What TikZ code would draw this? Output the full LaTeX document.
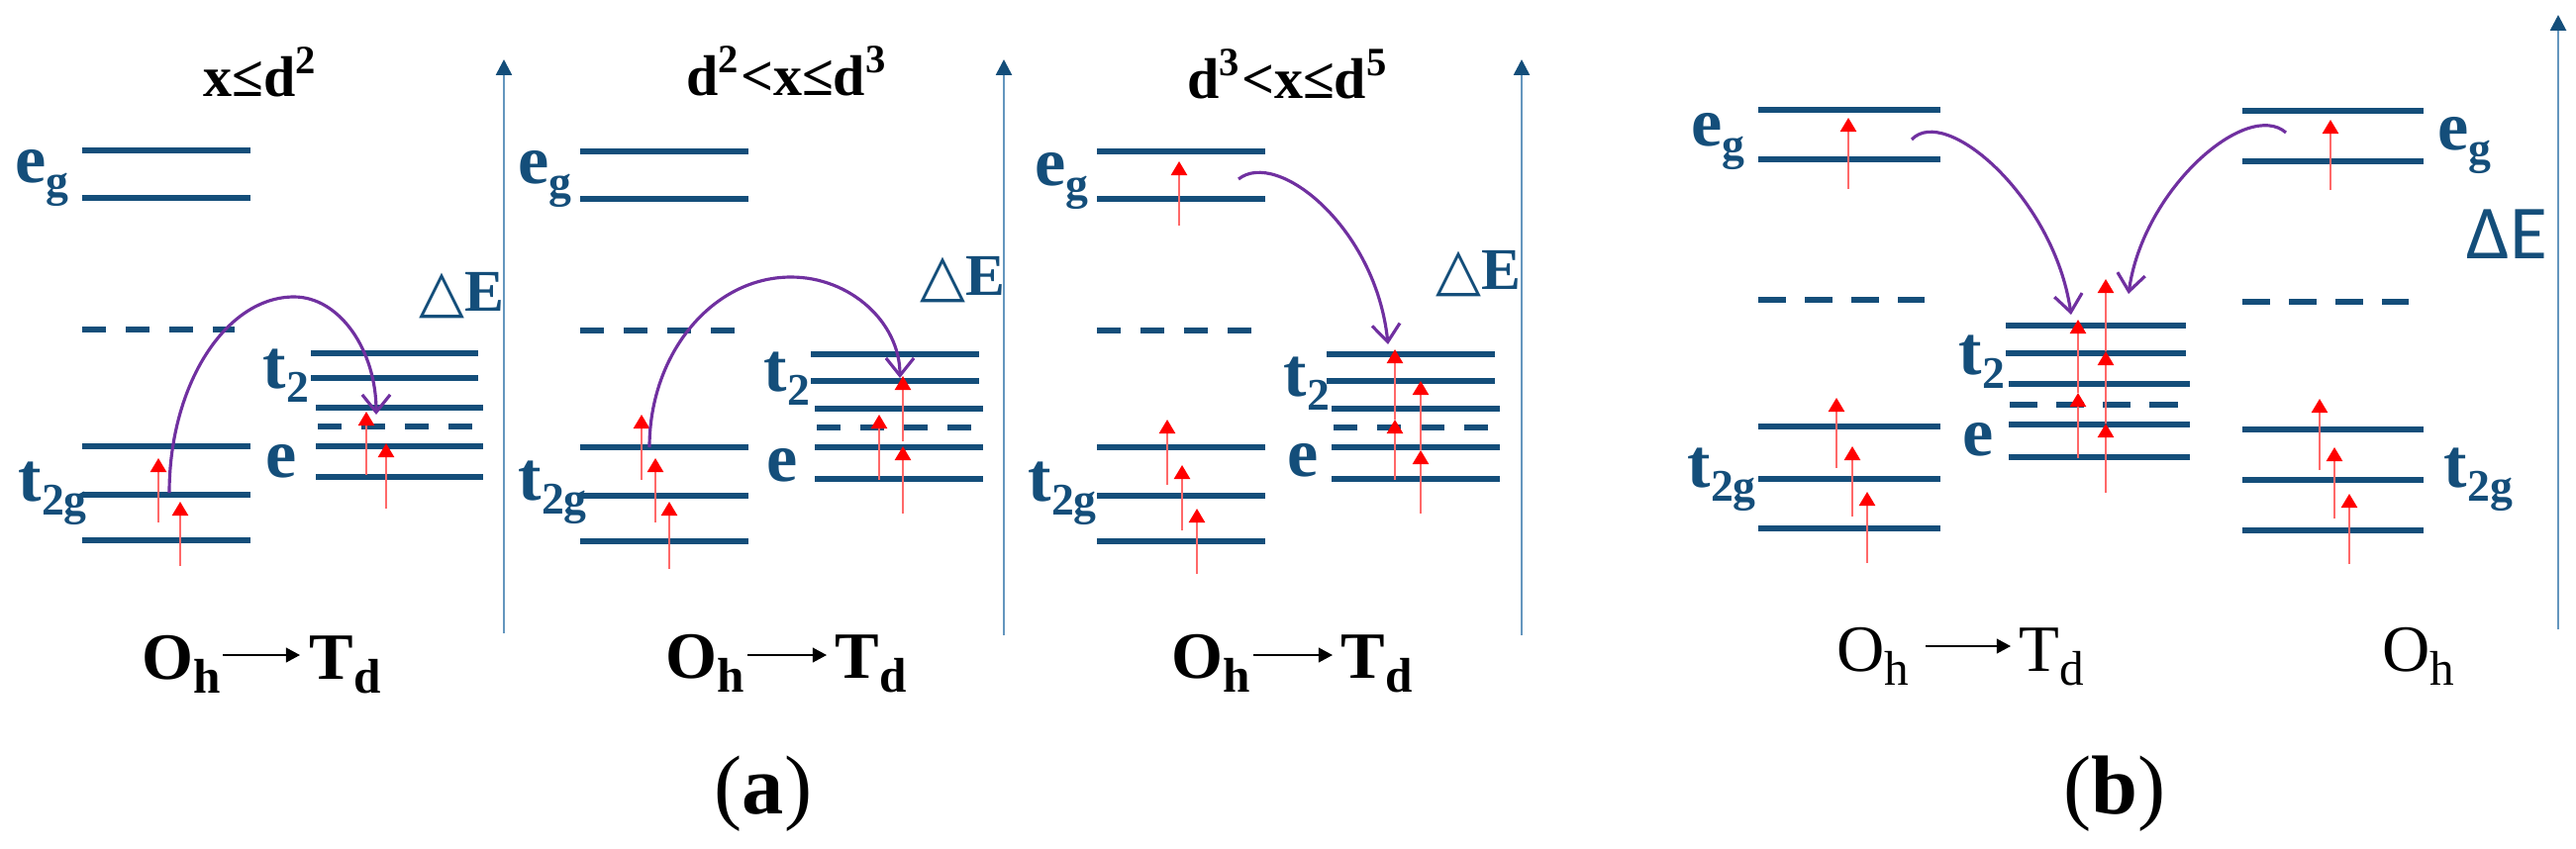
\documentclass[tikz,border=0pt]{standalone}
\usepackage{fontspec}
\setmainfont{Liberation Serif}
\newfontfamily\trifont{DejaVu Sans}
\newfontfamily\carfont{Carlito}
\usetikzlibrary{arrows.meta}
\definecolor{lvlblue}{RGB}{20,78,122}
\definecolor{axblue}{RGB}{100,150,190}
\definecolor{hopc}{RGB}{112,48,160}
\definecolor{elline}{RGB}{255,105,105}
\newcommand{\lsub}[2]{#1\raisebox{-4pt}{\fontsize{13pt}{13pt}\selectfont #2}}
\newcommand{\osub}[2]{#1\raisebox{-4pt}{\fontsize{14pt}{14pt}\selectfont #2}}
\begin{document}
\begin{tikzpicture}[x=0.01cm,y=-0.01cm,
  lvl/.style={draw=lvlblue,line width=1.8pt},
  lvd/.style={lvl,dash pattern=on 6.8pt off 5.7pt},
  lvdb/.style={lvl,dash pattern=on 8pt off 5.4pt},
  elec/.style={draw=elline,line width=0.6pt,-{Triangle[length=4pt,width=4.6pt,color=red]}},
  hop/.style={draw=hopc,line width=0.9pt,-{Straight Barb[length=5pt,width=8pt]}},
  axis/.style={draw=axblue,line width=0.75pt,-{Triangle[length=4.5pt,width=4.5pt,color=lvlblue]}},
  lbl/.style={text=lvlblue,font=\fontsize{20pt}{24pt}\selectfont\bfseries,inner sep=0pt,anchor=base west},
  de/.style={text=lvlblue,font=\fontsize{17pt}{20pt}\selectfont\bfseries,inner sep=0pt,anchor=base west},
  deb/.style={text=lvlblue,font=\fontsize{22pt}{26pt}\selectfont\carfont,inner sep=0pt,anchor=base west},
  ttl/.style={font=\fontsize{16.5pt}{20pt}\selectfont\bfseries,inner sep=0pt,anchor=base},
  sym/.style={font=\fontsize{19pt}{22pt}\selectfont\bfseries,inner sep=0pt,anchor=base west},
  symb/.style={font=\fontsize{19pt}{22pt}\selectfont,inner sep=0pt,anchor=base west},
  tag/.style={font=\fontsize{24pt}{28pt}\selectfont,inner sep=0pt,anchor=base},
  conv/.style={line width=0.45pt,-{Triangle[length=4pt,width=4.2pt]}}
]
\useasboundingbox (0,0) rectangle (2602,857);

% ================= Panel (a) 1 =================
\node[ttl] (t1) at (263,97) {x≤d\textsuperscript{2}};
\draw[lvl] (83,152) -- (253,152);
\draw[lvl] (83,200) -- (253,200);
\draw[lvd] (83,333) -- (237,333);
\draw[lvl] (83,451) -- (253,451);
\draw[lvl] (83,500) -- (253,500);
\draw[lvl] (83,546) -- (253,546);
\draw[lvl] (314,357) -- (483,357);
\draw[lvl] (314,382) -- (483,382);
\draw[lvl] (319,412) -- (488,412);
\draw[lvd] (321,431) -- (477,431);
\draw[lvl] (319,451) -- (488,451);
\draw[lvl] (319,482) -- (488,482);
\node[lbl] (eg1) at (15,184) {\lsub{e}{g}};
\node[lbl] (tg1) at (18,506) {\lsub{t}{2g}};
\node[lbl] (tt1) at (265,392) {\lsub{t}{2}};
\node[lbl] (ee1) at (268,482) {e};
\node[de] (de1) at (423,314) {{\trifont\mdseries △}E};
\draw[elec] (160,528) -- (160,463);
\draw[elec] (182,572) -- (182,507);
\draw[elec] (370,480) -- (370,416);
\draw[elec] (390,514) -- (390,448);
\coordinate (h1a) at (171,498);
\coordinate (h1p) at (297,300);
\coordinate (h1b) at (380,419);
\draw[hop] (h1a) .. controls (171,389) and (228,300) .. (h1p) .. controls (343,300) and (380,354) .. (h1b);
\draw[axis] (509,640) -- (509,60);
\node[sym] (oh1) at (143,686) {\osub{O}{h}};
\node[sym] (td1) at (312,686) {\osub{T}{d}};
\coordinate (c1a) at (225,662);
\coordinate (c1b) at (303,662);
\draw[conv] (c1a) -- (c1b);

% ================= Panel (a) 2 =================
\node[ttl] (t2) at (795,96) {d\textsuperscript{2}<x≤d\textsuperscript{3}};
\draw[lvl] (586,153) -- (756,153);
\draw[lvl] (586,201) -- (756,201);
\draw[lvd] (586,334) -- (744,334);
\draw[lvl] (586,452) -- (756,452);
\draw[lvl] (586,501) -- (756,501);
\draw[lvl] (586,547) -- (756,547);
\draw[lvl] (819,358) -- (989,358);
\draw[lvl] (819,385) -- (989,385);
\draw[lvl] (823,413) -- (993,413);
\draw[lvd] (825,432) -- (981,432);
\draw[lvl] (823,452) -- (993,452);
\draw[lvl] (823,484) -- (993,484);
\node[lbl] (eg2) at (523,185) {\lsub{e}{g}};
\node[lbl] (tg2) at (523,505) {\lsub{t}{2g}};
\node[lbl] (tt2) at (771,395) {\lsub{t}{2}};
\node[lbl] (ee2) at (774,486) {e};
\node[de] (de2) at (929,298) {{\trifont\mdseries △}E};
\draw[elec] (648,485) -- (648,419);
\draw[elec] (662,528) -- (662,463);
\draw[elec] (676,575) -- (676,507);
\draw[elec] (888,485) -- (888,419);
\draw[elec] (912,519) -- (912,451);
\draw[elec] (912,446) -- (912,380);
\coordinate (h2a) at (656,452);
\coordinate (h2p) at (799,280);
\coordinate (h2b) at (909,382);
\draw[hop] (h2a) .. controls (656,357) and (720,280) .. (h2p) .. controls (859,280) and (909,326) .. (h2b);
\draw[axis] (1014,642) -- (1014,60);
\node[sym] (oh2) at (672,685) {\osub{O}{h}};
\node[sym] (td2) at (843,685) {\osub{T}{d}};
\coordinate (c2a) at (755,662);
\coordinate (c2b) at (835,662);
\draw[conv] (c2a) -- (c2b);

% ================= Panel (a) 3 =================
\node[ttl] (t3) at (1301,99) {d\textsuperscript{3}<x≤d\textsuperscript{5}};
\draw[lvl] (1108,153) -- (1278,153);
\draw[lvl] (1108,201) -- (1278,201);
\draw[lvd] (1108,334) -- (1264,334);
\draw[lvl] (1108,452) -- (1278,452);
\draw[lvl] (1108,501) -- (1278,501);
\draw[lvl] (1108,547) -- (1278,547);
\draw[lvl] (1340,358) -- (1510,358);
\draw[lvl] (1340,385) -- (1510,385);
\draw[lvl] (1345,413) -- (1515,413);
\draw[lvd] (1347,432) -- (1503,432);
\draw[lvl] (1345,452) -- (1515,452);
\draw[lvl] (1345,484) -- (1515,484);
\node[lbl] (eg3) at (1045,187) {\lsub{e}{g}};
\node[lbl] (tg3) at (1038,506) {\lsub{t}{2g}};
\node[lbl] (tt3) at (1296,400) {\lsub{t}{2}};
\node[lbl] (ee3) at (1300,481) {e};
\node[de] (de3) at (1450,292) {{\trifont\mdseries △}E};
\draw[elec] (1191,228) -- (1191,163);
\draw[elec] (1179,490) -- (1179,424);
\draw[elec] (1194,536) -- (1194,470);
\draw[elec] (1209,580) -- (1209,514);
\draw[elec] (1409,485) -- (1409,424);
\draw[elec] (1409,424) -- (1409,353);
\draw[elec] (1435,519) -- (1435,455);
\draw[elec] (1435,455) -- (1435,385);
\coordinate (h3a) at (1251,181);
\coordinate (h3b) at (1402,348);
\draw[hop] (h3a) .. controls (1290,150) and (1390,230) .. (h3b);
\draw[axis] (1537,642) -- (1537,60);
\node[sym] (oh3) at (1183,685) {\osub{O}{h}};
\node[sym] (td3) at (1354,685) {\osub{T}{d}};
\coordinate (c3a) at (1266,662);
\coordinate (c3b) at (1346,662);
\draw[conv] (c3a) -- (c3b);

% ================= Panel (b) =================
% left Oh
\draw[lvl] (1776,111) -- (1960,111);
\draw[lvl] (1776,161) -- (1960,161);
\draw[lvdb] (1776,303) -- (1944,303);
\draw[lvl] (1776,431) -- (1960,431);
\draw[lvl] (1776,484) -- (1960,484);
\draw[lvl] (1776,534) -- (1960,534);
% centre Td
\draw[lvl] (2026,329) -- (2208,329);
\draw[lvl] (2026,357) -- (2208,357);
\draw[lvl] (2029,388) -- (2212,388);
\draw[lvdb] (2030,409) -- (2200,409);
\draw[lvl] (2029,429) -- (2212,429);
\draw[lvl] (2029,462) -- (2212,462);
% right Oh
\draw[lvl] (2265,112) -- (2448,112);
\draw[lvl] (2265,163) -- (2448,163);
\draw[lvdb] (2265,305) -- (2433,305);
\draw[lvl] (2265,434) -- (2448,434);
\draw[lvl] (2265,485) -- (2448,485);
\draw[lvl] (2265,536) -- (2448,536);
\node[lbl] (egb1) at (1708,147) {\lsub{e}{g}};
\node[lbl] (tgb1) at (1704,492) {\lsub{t}{2g}};
\node[lbl] (ttb) at (1978,378) {\lsub{t}{2}};
\node[lbl] (eeb) at (1982,460) {e};
\node[lbl] (egb2) at (2462,151) {\lsub{e}{g}};
\node[lbl] (tgb2) at (2468,492) {\lsub{t}{2g}};
\node[deb] (deb) at (2491,261) {ΔE};
\draw[elec] (1867,191) -- (1867,119);
\draw[elec] (1855,473) -- (1855,402);
\draw[elec] (1871,522) -- (1871,451);
\draw[elec] (1886,569) -- (1886,497);
\draw[elec] (2354,192) -- (2354,121);
\draw[elec] (2343,475) -- (2343,403);
\draw[elec] (2358,524) -- (2358,452);
\draw[elec] (2373,570) -- (2373,499);
\draw[elec] (2099,463) -- (2099,397);
\draw[elec] (2099,397) -- (2099,323);
\draw[elec] (2127,498) -- (2127,428);
\draw[elec] (2127,428) -- (2127,355);
\draw[elec] (2127,355) -- (2127,282);
\coordinate (hb1a) at (1931,141);
\coordinate (hb1b) at (2092,318);
\coordinate (hb2a) at (2309,134);
\coordinate (hb2b) at (2150,297);
\draw[hop] (hb1a) .. controls (1965,105) and (2075,200) .. (hb1b);
\draw[hop] (hb2a) .. controls (2270,100) and (2165,190) .. (hb2b);
\draw[axis] (2584,636) -- (2584,15);
\node[symb] (ohb) at (1855,678) {\osub{O}{h}};
\node[symb] (tdb) at (2039,678) {\osub{T}{d}};
\node[symb] (ohb2) at (2406,678) {\osub{O}{h}};
\coordinate (cba) at (1945,653);
\coordinate (cbb) at (2031,653);
\draw[conv] (cba) -- (cbb);

% tags
\node[tag] (taga) at (771,822) {(\textbf{a})};
\node[tag] (tagb) at (2136,822) {(\textbf{b})};
\end{tikzpicture}
\end{document}
